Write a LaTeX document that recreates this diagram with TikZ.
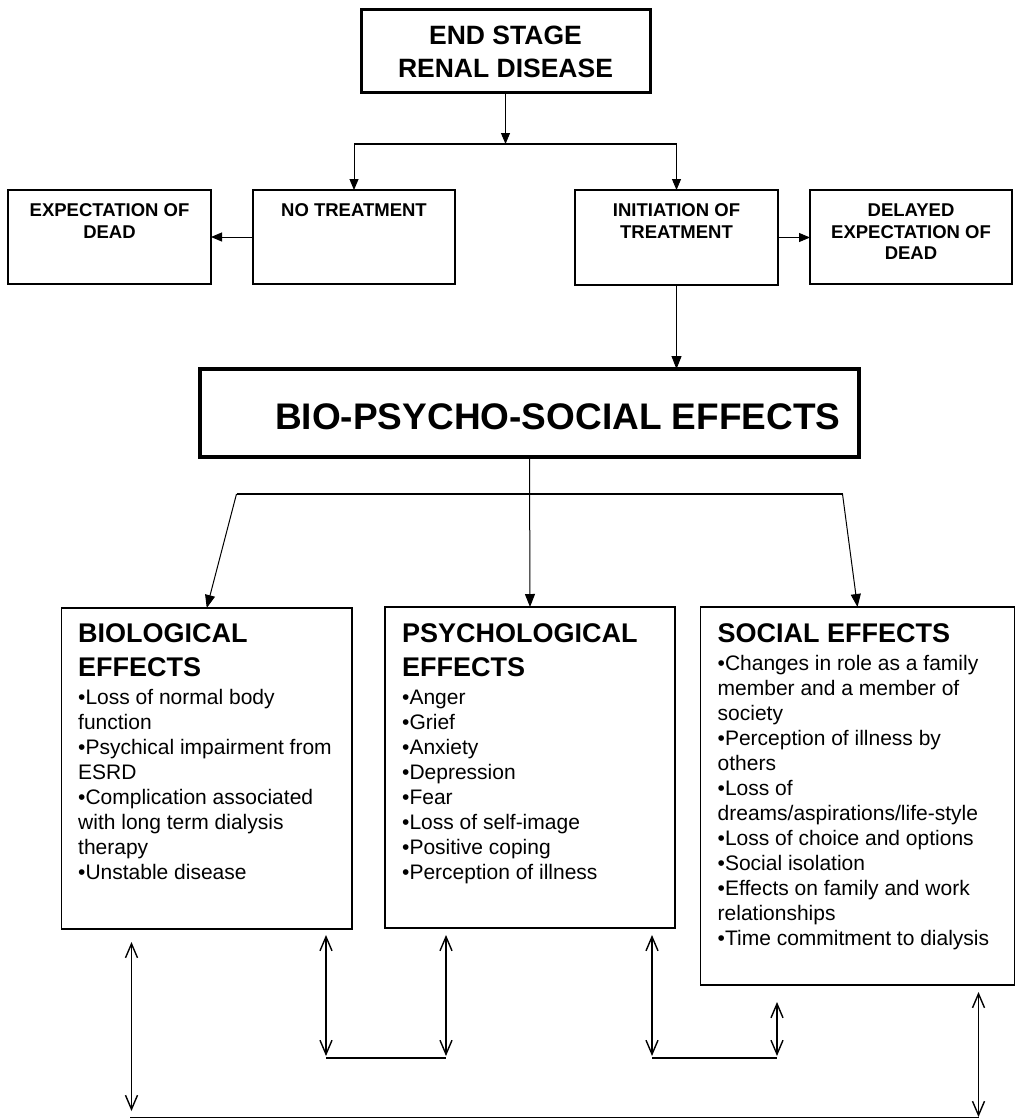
\documentclass[tikz,border=0pt]{standalone}
\usepackage{fontspec}
\setmainfont{Liberation Sans}
\usetikzlibrary{arrows.meta}
\begin{document}
\begin{tikzpicture}[x=1pt,y=-1pt,
  box/.style={draw, outer sep=0pt, inner sep=0pt, anchor=north west},
  txt/.style={inner sep=0pt},
  conn/.style={line width=1pt},
  tri/.style={-{Triangle[length=11pt,width=9pt]}},
  trib/.style={-{Triangle[length=13pt,width=10pt]}},
  dbl/.style={line width=1.4pt,{Straight Barb[length=14pt,width=12pt]}-{Straight Barb[length=14pt,width=12pt]}},
]
\useasboundingbox[fill=white] (0,0) rectangle (1016,1119);

% ---- top boxes
\node[box, line width=3pt, minimum width=289pt, minimum height=83pt] (esrd) at (361,9) {};
\node[txt, anchor=base] (esrdt) at (505.5,44)
  {\parbox[t]{285pt}{\centering\fontsize{26.5}{33}\selectfont\bfseries END STAGE\\RENAL DISEASE}};

\node[box, line width=2pt, minimum width=203pt, minimum height=94pt] (eod) at (8,190) {};
\node[box, line width=2pt, minimum width=202pt, minimum height=94pt] (nt) at (253,190) {};
\node[box, line width=2pt, minimum width=203pt, minimum height=95pt] (it) at (575,190) {};
\node[box, line width=2pt, minimum width=202pt, minimum height=94pt] (del) at (810,190) {};

\node[txt, anchor=base] (eodt) at (eod.north |- 0,216.5)
  {\parbox[t]{200pt}{\centering\fontsize{18.5}{21.5}\selectfont\bfseries EXPECTATION OF\\DEAD}};
\node[txt, anchor=base] (ntt) at (nt.north |- 0,216.5)
  {\parbox[t]{200pt}{\centering\fontsize{18.5}{21.5}\selectfont\bfseries NO TREATMENT}};
\node[txt, anchor=base] (itt) at (it.north |- 0,216.5)
  {\parbox[t]{200pt}{\centering\fontsize{18.5}{21.5}\selectfont\bfseries INITIATION OF\\TREATMENT}};
\node[txt, anchor=base] (delt) at (del.north |- 0,216.5)
  {\parbox[t]{200pt}{\centering\fontsize{18.5}{21.5}\selectfont\bfseries DELAYED\\EXPECTATION OF\\DEAD}};

% ---- bio-psycho-social
\node[box, line width=4pt, minimum width=659pt, minimum height=88pt] (bps) at (200,369) {};
\node[txt, anchor=base west] (bpst) at (275,429)
  {\fontsize{37}{40}\selectfont\bfseries BIO-PSYCHO-SOCIAL EFFECTS};

% ---- effect boxes
\node[box, line width=1.3pt, minimum width=290.5pt, minimum height=321pt] (bio) at (61.5,608) {};
\node[box, line width=1.3pt, minimum width=290pt, minimum height=321pt] (psy) at (385,607) {};
\node[box, line width=1.3pt, minimum width=314pt, minimum height=378pt] (soc) at (700.5,607) {};

\node[txt, anchor=base west] (bioh) at (78,642)
  {\parbox[t]{270pt}{\fontsize{27}{34}\selectfont\bfseries BIOLOGICAL\\EFFECTS}};
\node[txt, anchor=base west] (biob) at (78,704.5)
  {\parbox[t]{300pt}{\raggedright\fontsize{21}{25}\selectfont
   •Loss of normal body\\function\\•Psychical impairment from\\ESRD\\•Complication associated\\with  long term dialysis\\therapy\\•Unstable disease}};

\node[txt, anchor=base west] (psyh) at (402,642)
  {\parbox[t]{270pt}{\fontsize{27}{34}\selectfont\bfseries PSYCHOLOGICAL\\EFFECTS}};
\node[txt, anchor=base west] (psyb) at (402,704.5)
  {\parbox[t]{300pt}{\raggedright\fontsize{21}{25}\selectfont
   •Anger\\•Grief\\•Anxiety\\•Depression\\•Fear\\•Loss of self-image\\•Positive coping\\•Perception of illness}};

\node[txt, anchor=base west] (soch) at (717.5,642)
  {\fontsize{27}{34}\selectfont\bfseries SOCIAL EFFECTS};
\node[txt, anchor=base west] (socb) at (717.5,670.5)
  {\parbox[t]{300pt}{\raggedright\fontsize{21}{25}\selectfont
   •Changes in role as a family\\member and a member of\\society\\•Perception of illness by\\others\\•Loss of\\dreams/aspirations/life-style\\•Loss of choice and options\\•Social isolation\\•Effects on family and work\\relationships\\•Time commitment to dialysis}};

% ---- top connectors
\coordinate (s1) at (505.5,144);
\coordinate (s1l) at (nt.north |- s1);
\coordinate (s1r) at (it.north |- s1);
\draw[conn, tri] (esrd.south) -- (s1);
\draw[line width=1.6pt] (s1l) -- (s1r);
\draw[conn, tri] (s1l) -- (nt.north);
\draw[conn, tri] (s1r) -- (it.north);
\draw[conn, tri] (nt.west) -- (eod.east);
\draw[conn, tri] (it.east) -- (del.west |- it.east);
\draw[conn, trib] (it.south) -- (it.south |- bps.north);

% ---- bps connectors
\coordinate (s2l) at (236.5,494);
\coordinate (s2r) at (842.5,494);
\draw[line width=1.6pt] (s2l) -- (s2r);
\draw[conn, trib] (bps.south) -- (psy.north);
\draw[conn, trib] (s2l) -- (bio.north);
\draw[conn, trib] (s2r) -- (soc.north);

% ---- bottom double arrows
\coordinate (a1) at (131.5,942);  \coordinate (a2) at (131.5,1111);
\coordinate (b1) at (326,935);    \coordinate (b2) at (326,1056);
\coordinate (c1) at (446,935);    \coordinate (c2) at (446,1056);
\coordinate (d1) at (652,935);    \coordinate (d2) at (652,1056);
\coordinate (e1) at (777,1002);   \coordinate (e2) at (777,1056);
\coordinate (f1) at (978.5,992);  \coordinate (f2) at (978.5,1117);
\draw[dbl] (a1) -- (a2);
\draw[dbl] (b1) -- (b2);
\draw[dbl] (c1) -- (c2);
\draw[dbl] (d1) -- (d2);
\draw[dbl] (e1) -- (e2);
\draw[dbl] (f1) -- (f2);
\draw[line width=2pt] (b2 |- 0,1058) coordinate (g1) -- (c2 |- 0,1058) coordinate (g2);
\draw[line width=2pt] (d2 |- 0,1058) coordinate (h1) -- (e2 |- 0,1058) coordinate (h2);
\draw[line width=1.5pt] (130,1117.5) coordinate (l1) -- (978.5,1117.5) coordinate (l2);
\end{tikzpicture}
\end{document}
